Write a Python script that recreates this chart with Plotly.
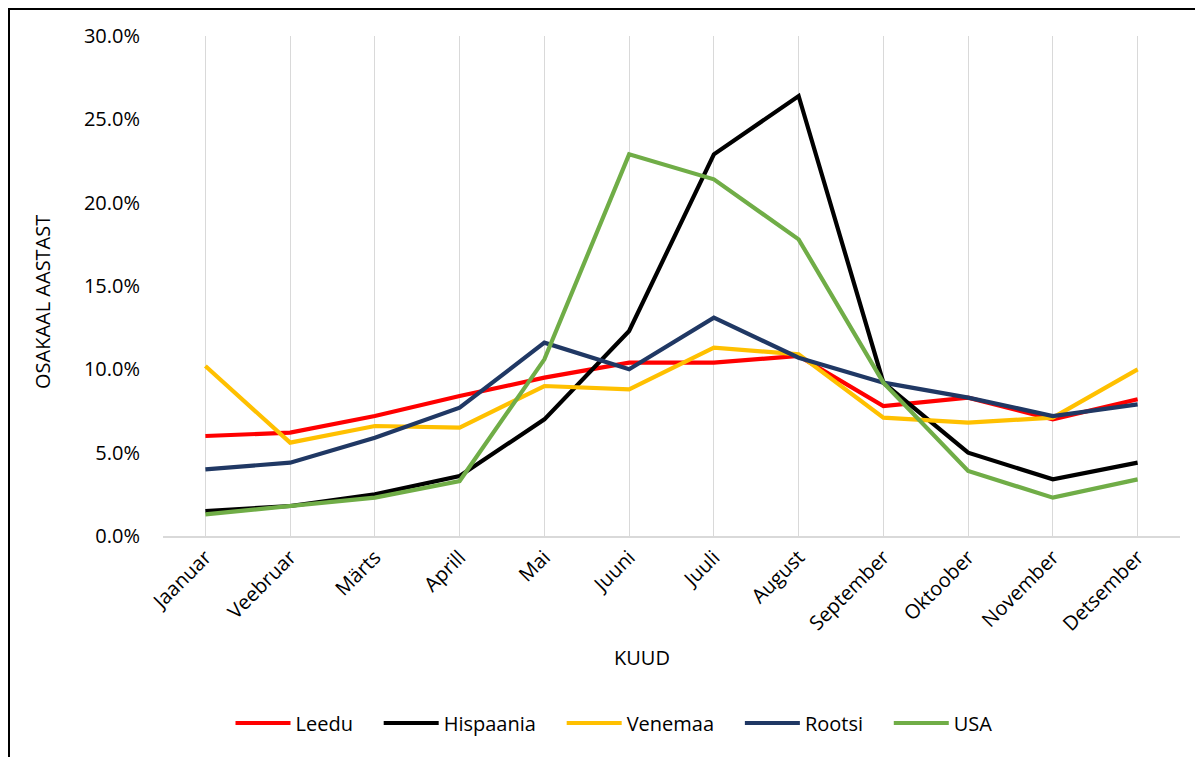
import plotly.graph_objects as go

months = ["Jaanuar", "Veebruar", "Märts", "Aprill", "Mai", "Juuni", "Juuli",
          "August", "September", "Oktoober", "November", "Detsember"]

leedu = [6.0, 6.2, 7.2, 8.4, 9.5, 10.4, 10.4, 10.8, 7.8, 8.3, 7.0, 8.2]
hispaania = [1.5, 1.8, 2.5, 3.6, 7.0, 12.3, 22.9, 26.4, 9.2, 5.0, 3.4, 4.4]
venemaa = [10.2, 5.6, 6.6, 6.5, 9.0, 8.8, 11.3, 10.9, 7.1, 6.8, 7.1, 10.0]
rootsi = [4.0, 4.4, 5.9, 7.7, 11.6, 10.0, 13.1, 10.7, 9.2, 8.3, 7.2, 7.9]
usa = [1.3, 1.8, 2.3, 3.3, 10.6, 22.9, 21.4, 17.8, 9.2, 3.9, 2.3, 3.4]

series_names = ["Leedu", "Hispaania", "Venemaa", "Rootsi", "USA"]
series_values = [leedu, hispaania, venemaa, rootsi, usa]
series_colors = ["#FF0000", "#000000", "#FFC000", "#203864", "#70AD47"]

y_ticks = [0, 0.05, 0.10, 0.15, 0.20, 0.25, 0.30]

FONT = "Open Sans"
FS = 20
PAD = "\u00a0\u00a0\u00a0\u00a0"

fig = go.Figure()
for i, (name, vals, col) in enumerate(zip(series_names, series_values, series_colors)):
    label = name + (PAD if i < len(series_names) - 1 else "")
    fig.add_trace(go.Scatter(
        x=months, y=[v / 100 for v in vals], name=label, mode="lines",
        line=dict(color=col, width=4.2), hoverinfo="skip"))

OFF = 8  # page offset of the figure
W, H = 1195, 749
# plot area in page coordinates
PX0, PX1, PY0, PY1 = 163, 1180, 36, 536
L = PX0 - OFF
T = PY0 - OFF
R = W - (PX1 - OFF)
B = H - (PY1 - OFF)
pw, ph = PX1 - PX0, PY1 - PY0


def px(x):
    return (x - PX0) / pw


def py(y):
    return (PY1 - y) / ph


fig.update_layout(
    width=W, height=H,
    margin=dict(l=L, r=R, t=T, b=B, autoexpand=False),
    paper_bgcolor="white", plot_bgcolor="white",
    font=dict(family=FONT, size=FS, color="#000000"),
    showlegend=True,
    legend=dict(orientation="h", x=px(614), y=py(723), xanchor="center",
                yanchor="middle", font=dict(size=FS), itemwidth=55,
                bgcolor="rgba(0,0,0,0)", traceorder="normal"),
    xaxis=dict(type="category", range=[-0.5, 11.5], showgrid=True,
               gridcolor="#D9D9D9", gridwidth=1, showline=True,
               linecolor="#D9D9D9", linewidth=1.5, ticks="", tickangle=-45,
               tickfont=dict(size=FS), fixedrange=True),
    yaxis=dict(range=[0, 0.30], tickvals=y_ticks, tickformat=".1%",
               showgrid=False, zeroline=False, showline=False, ticks="",
               ticklabelstandoff=22, tickfont=dict(size=FS), fixedrange=True),
    shapes=[
        dict(type="line", xref="paper", yref="paper", x0=px(OFF + 1), x1=px(OFF + 1),
             y0=py(OFF + 1), y1=py(OFF + H + 5), line=dict(color="black", width=2)),
        dict(type="line", xref="paper", yref="paper", x0=px(OFF), x1=px(OFF + W + 5),
             y0=py(OFF + 1), y1=py(OFF + 1), line=dict(color="black", width=2)),
    ],
    annotations=[
        dict(text="KUUD", xref="paper", yref="paper", x=px(642), y=py(657),
             showarrow=False, xanchor="center", yanchor="middle",
             font=dict(size=FS)),
        dict(text="OSAKAAL AASTAST", xref="paper", yref="paper", x=px(42),
             y=py(302), showarrow=False, textangle=-90, xanchor="center",
             yanchor="middle", font=dict(size=FS)),
    ],
)

fig.write_html("out.html")
